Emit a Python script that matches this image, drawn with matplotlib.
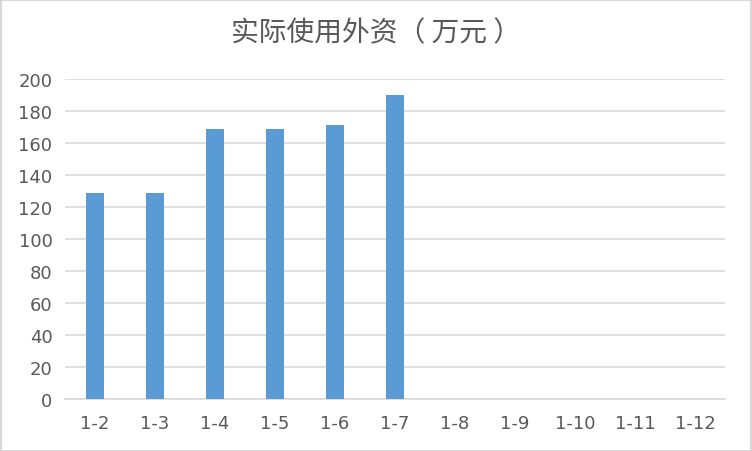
import matplotlib
matplotlib.use("Agg")
import matplotlib.pyplot as plt
from matplotlib.patches import Rectangle

categories = ["1-2", "1-3", "1-4", "1-5", "1-6", "1-7", "1-8", "1-9", "1-10", "1-11", "1-12"]
values = [129, 129, 169, 169, 171, 190, 0, 0, 0, 0, 0]
yticks = [0, 20, 40, 60, 80, 100, 120, 140, 160, 180, 200]
title = "实际使用外资（ 万元 ）"

plt.rcParams['font.family'] = ['DejaVu Sans', 'Noto Sans CJK SC']

fig = plt.figure(figsize=(7.52, 4.52), dpi=100)
ax = fig.add_axes([65/752, 52/452, 660/752, 320/452])

x = list(range(len(categories)))
ax.bar(x, values, width=0.3, color="#5b9bd5", zorder=3)

ax.set_xlim(-0.5, len(categories) - 0.5)
ax.set_ylim(0, 200)
ax.set_yticks(yticks)
ax.set_xticks(x)
ax.set_xticklabels(categories)
ax.yaxis.grid(True, color="#d9d9d9", linewidth=1.2, zorder=0)
for s in ["top", "right", "left"]:
    ax.spines[s].set_visible(False)
ax.spines["bottom"].set_color("#d9d9d9")
ax.spines["bottom"].set_linewidth(1.2)
ax.tick_params(axis="both", length=0, labelsize=13, labelcolor="#595959")
ax.tick_params(axis="x", pad=11)
ax.tick_params(axis="y", pad=9)
for lab in ax.get_xticklabels() + ax.get_yticklabels():
    lab.set_fontfamily("DejaVu Sans")

fig.text(0.5, 1 - 33/452, title, ha="center", va="center",
         fontsize=20, color="#595959", family=['Noto Sans CJK SC', 'DejaVu Sans'])

fig.patches.append(Rectangle((0.5/752, 0.5/452), 750/752, 450.5/452, transform=fig.transFigure,
                             fill=False, edgecolor="#d9d9d9", linewidth=1.5))

fig.savefig("out.png", dpi=100)
